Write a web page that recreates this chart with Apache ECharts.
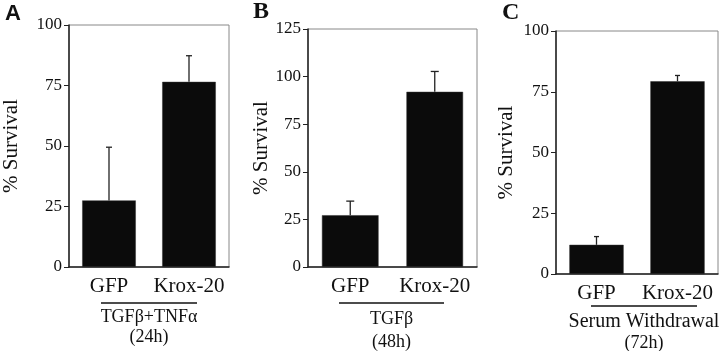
<!DOCTYPE html>
<html><head><meta charset="utf-8">
<script src="https://cdn.jsdelivr.net/npm/echarts@6/dist/echarts.min.js"></script>
<style>html,body{margin:0;padding:0;background:#fff}#c{width:720px;height:351px}</style>
</head><body><div id="c"></div>
<script>
const categories = ['GFP', 'Krox-20'];
const meanA = [27.5, 76.5];
const errA = [22, 10.8];
const meanB = [27.2, 92];
const errB = [7.4, 10.7];
const meanC = [12, 79.3];
const errC = [3.4, 2.4];
const yMaxes = [100, 125, 100];
const panelLetters = ['A', 'B', 'C'];
const groupLabels = ['TGFβ+TNFα', 'TGFβ', 'Serum Withdrawal'];
const timeLabels = ['(24h)', '(48h)', '(72h)'];
const yName = '% Survival';

const FONT = '"Liberation Serif","Times New Roman",serif';
const ink = '#111';
const grids = [
  {left: 69, top: 25, width: 160, height: 242},
  {left: 308, top: 29, width: 169, height: 238},
  {left: 556, top: 31, width: 162, height: 243}
];
const nameGaps = [47, 36, 39];
const capHalf = [3, 4, 2.5];
const means = [meanA, meanB, meanC];
const errs = [errA, errB, errC];

const option = {
  animation: false,
  backgroundColor: '#fff',
  grid: grids.map(g => Object.assign({show: true, borderColor: '#888', borderWidth: 1}, g)),
  xAxis: grids.map((g, i) => ({
    type: 'category', gridIndex: i, data: categories,
    axisLine: {lineStyle: {color: '#222', width: 1.5}},
    axisTick: {alignWithLabel: true, length: 5, lineStyle: {color: '#222'}},
    axisLabel: {color: ink, fontFamily: FONT, fontSize: 21, margin: 9, interval: 0, hideOverlap: false}
  })),
  yAxis: grids.map((g, i) => ({
    type: 'value', gridIndex: i, min: 0, max: yMaxes[i], interval: 25,
    name: yName, nameLocation: 'middle', nameGap: nameGaps[i], nameRotate: 90,
    nameTextStyle: {color: ink, fontFamily: FONT, fontSize: 21},
    axisLine: {show: true, lineStyle: {color: '#222', width: 1.5}},
    axisTick: {show: true, length: 5, lineStyle: {color: '#222'}},
    splitLine: {show: false},
    axisLabel: {color: ink, fontFamily: FONT, fontSize: 17, margin: 7}
  })),
  series: []
};
means.forEach((m, i) => {
  option.series.push({
    type: 'bar', xAxisIndex: i, yAxisIndex: i, data: m, barWidth: '67%',
    itemStyle: {color: '#0b0b0b', borderColor: '#333', borderWidth: 0.5}
  });
  option.series.push({
    type: 'custom', xAxisIndex: i, yAxisIndex: i, z: 1,
    data: m.map((v, k) => [k, v, v + errs[i][k]]),
    renderItem: (params, api) => {
      const lo = api.coord([api.value(0), api.value(1)]);
      const hi = api.coord([api.value(0), api.value(2)]);
      const h = capHalf[i];
      const st = {stroke: '#222', lineWidth: 1.3};
      return {type: 'group', children: [
        {type: 'line', shape: {x1: lo[0], y1: lo[1], x2: hi[0], y2: hi[1]}, style: st},
        {type: 'line', shape: {x1: hi[0] - h, y1: hi[1], x2: hi[0] + h, y2: hi[1]}, style: st}
      ]};
    }
  });
});

const underline = [[101, 197, 303], [339, 444, 303], [591, 697, 306]];
const groupY = [317, 319, 322];
const timeY = [337, 342, 343];
const groupSize = [18, 18, 20];
const letterPos = [[5, 3], [253, 0], [502, 1]];
const graphic = [];
for (let i = 0; i < 3; i++) {
  const u = underline[i];
  const cx = (u[0] + u[1]) / 2;
  graphic.push({type: 'line', shape: {x1: u[0], y1: u[2], x2: u[1], y2: u[2]}, style: {stroke: '#111', lineWidth: 1.5}});
  graphic.push({type: 'text', x: cx, y: groupY[i], style: {text: groupLabels[i], fontFamily: FONT, fontSize: groupSize[i], fill: ink, textAlign: 'center', textVerticalAlign: 'middle'}});
  graphic.push({type: 'text', x: cx, y: timeY[i], style: {text: timeLabels[i], fontFamily: FONT, fontSize: 18, fill: ink, textAlign: 'center', textVerticalAlign: 'middle'}});
  graphic.push({type: 'text', x: letterPos[i][0], y: letterPos[i][1], style: {text: panelLetters[i], fontFamily: i === 0 ? '"Liberation Sans",Arial,sans-serif' : FONT, fontWeight: 'bold', fontSize: i === 0 ? 22 : 24, fill: ink, textAlign: 'left', textVerticalAlign: 'top'}});
}
option.graphic = graphic;

const chart = echarts.init(document.getElementById('c'), null, {renderer: 'canvas'});
chart.setOption(option);
</script></body></html>
